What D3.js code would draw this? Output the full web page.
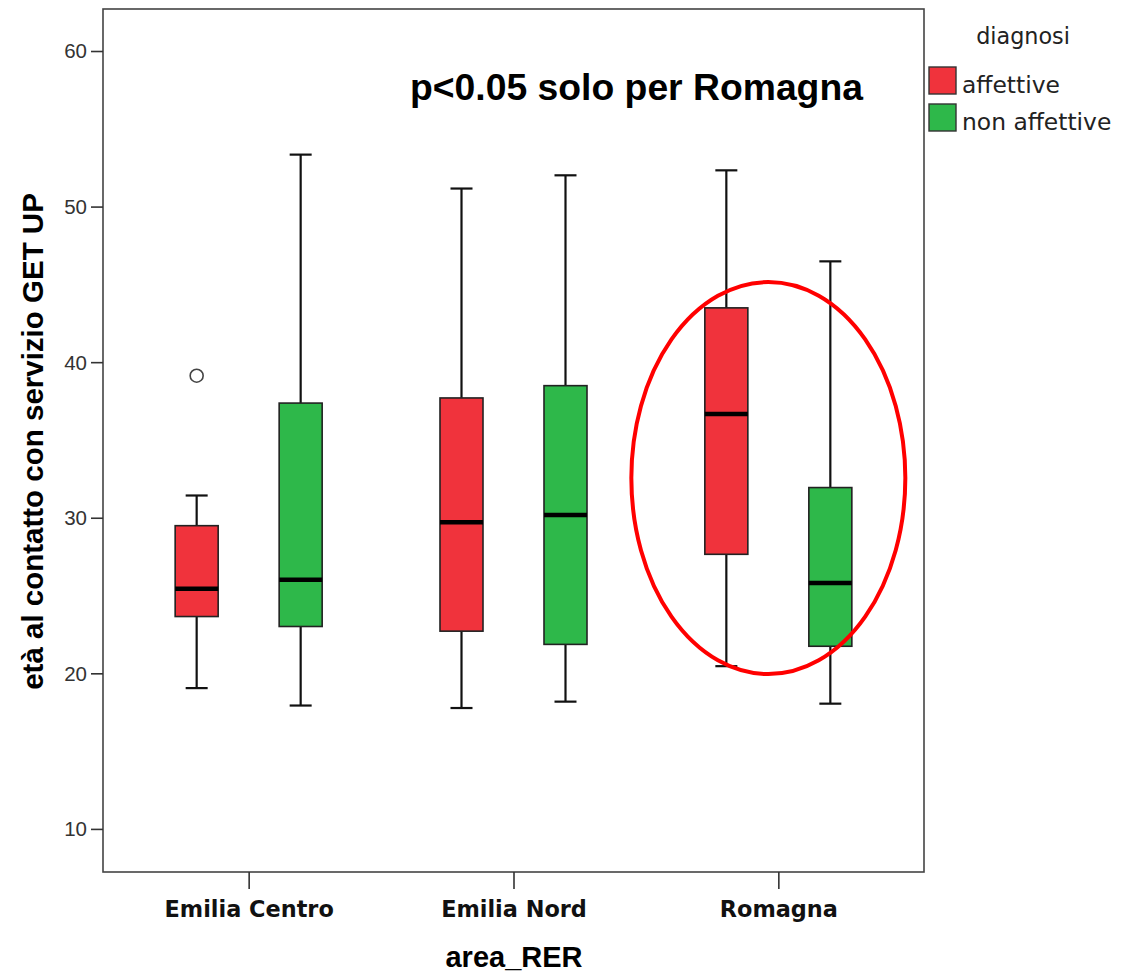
<!DOCTYPE html>
<html><head><meta charset="utf-8">
<script src="https://cdn.jsdelivr.net/npm/d3@7"></script>
<style>body{margin:0;background:#fff}</style>
</head><body><svg id="chart" width="1124" height="973"></svg>
<script>
const categories = ["Emilia Centro", "Emilia Nord", "Romagna"];
const groups = ["affettive", "non affettive"];
const groupColors = ["#f0333c", "#2eb84a"];
const affMin    = [19.05, 17.77, 20.46];
const affQ1     = [23.65, 22.71, 27.65];
const affMedian = [25.43, 29.71, 36.67];
const affQ3     = [29.49, 37.70, 43.49];
const affMax    = [31.43, 51.16, 52.33];
const nonMin    = [17.93, 18.18, 18.05];
const nonQ1     = [23.01, 21.86, 21.74];
const nonMedian = [26.01, 30.17, 25.81];
const nonQ3     = [37.37, 38.49, 31.94];
const nonMax    = [53.34, 52.01, 46.48];
const outlierCategory = ["Emilia Centro"];
const outlierGroup = ["affettive"];
const outlierValue = [39.13];
const yTicks = [10, 20, 30, 40, 50, 60];
const highlightCategory = "Romagna";
const highlightRange = [19.95, 45.15];

const svg = d3.select("#chart");
const L = 103, R = 924, T = 9, B = 872;
const x = d3.scalePoint().domain(categories).range([L, R]).padding(0.55);
const xg = d3.scalePoint().domain(groups).range([-52, 52]);
const y = d3.scaleLinear().domain([7.23, 62.7]).range([B, T]);
const color = d3.scaleOrdinal().domain(groups).range(groupColors);
const boxW = 43, capW = 22;

const stats = [];
categories.forEach((c, i) => {
  stats.push({cat: c, grp: groups[0], min: affMin[i], q1: affQ1[i], med: affMedian[i], q3: affQ3[i], max: affMax[i]});
  stats.push({cat: c, grp: groups[1], min: nonMin[i], q1: nonQ1[i], med: nonMedian[i], q3: nonQ3[i], max: nonMax[i]});
});

// frame
svg.append("rect").attr("x", L).attr("y", T).attr("width", R - L).attr("height", B - T)
  .attr("fill", "#fff").attr("stroke", "#444").attr("stroke-width", 1.6);

// y axis
const ya = svg.append("g").attr("transform", `translate(${L},0)`)
  .call(d3.axisLeft(y).tickValues(yTicks).tickSize(12).tickPadding(4));
ya.select(".domain").remove();
ya.selectAll(".tick line").attr("stroke", "#333").attr("stroke-width", 1.6);
ya.selectAll(".tick text").attr("font-family", "'Liberation Sans', Arial, sans-serif")
  .attr("font-size", 20.5).attr("fill", "#333").attr("dy", "0.34em");

// x axis
const xa = svg.append("g").attr("transform", `translate(0,${B})`)
  .call(d3.axisBottom(x).tickSize(17));
xa.select(".domain").remove();
xa.selectAll(".tick line").attr("stroke", "#333").attr("stroke-width", 1.6);
xa.selectAll(".tick text").attr("font-family", "'DejaVu Sans', Verdana, sans-serif")
  .attr("font-weight", "bold").attr("font-size", 22.4).attr("fill", "#111")
  .attr("y", 45).attr("dy", 0);

// boxes
const g = svg.append("g");
const bx = d => x(d.cat) + xg(d.grp);
const bs = g.selectAll("g.box").data(stats).join("g").attr("class", "box");
bs.append("line").attr("x1", bx).attr("x2", bx).attr("y1", d => y(d.max)).attr("y2", d => y(d.q3))
  .attr("stroke", "#111").attr("stroke-width", 2.2);
bs.append("line").attr("x1", bx).attr("x2", bx).attr("y1", d => y(d.q1)).attr("y2", d => y(d.min))
  .attr("stroke", "#111").attr("stroke-width", 2.2);
bs.append("line").attr("x1", d => bx(d) - capW / 2).attr("x2", d => bx(d) + capW / 2)
  .attr("y1", d => y(d.max)).attr("y2", d => y(d.max)).attr("stroke", "#111").attr("stroke-width", 2.2);
bs.append("line").attr("x1", d => bx(d) - capW / 2).attr("x2", d => bx(d) + capW / 2)
  .attr("y1", d => y(d.min)).attr("y2", d => y(d.min)).attr("stroke", "#111").attr("stroke-width", 2.2);
bs.append("rect").attr("x", d => bx(d) - boxW / 2).attr("width", boxW)
  .attr("y", d => y(d.q3)).attr("height", d => y(d.q1) - y(d.q3))
  .attr("fill", d => color(d.grp)).attr("stroke", "#222").attr("stroke-width", 1.6);
bs.append("line").attr("x1", d => bx(d) - boxW / 2).attr("x2", d => bx(d) + boxW / 2)
  .attr("y1", d => y(d.med)).attr("y2", d => y(d.med)).attr("stroke", "#000").attr("stroke-width", 4.5);

// outliers
g.selectAll("circle.out").data(outlierValue).join("circle").attr("class", "out")
  .attr("cx", (v, i) => x(outlierCategory[i]) + xg(outlierGroup[i]))
  .attr("cy", v => y(v)).attr("r", 6.5)
  .attr("fill", "#fff").attr("stroke", "#444").attr("stroke-width", 1.6);

// highlight ellipse
const ecy = (y(highlightRange[0]) + y(highlightRange[1])) / 2;
const ery = (y(highlightRange[0]) - y(highlightRange[1])) / 2;
svg.append("ellipse").attr("cx", x(highlightCategory) - 10).attr("cy", ecy)
  .attr("rx", 137).attr("ry", ery)
  .attr("fill", "none").attr("stroke", "#ff0000").attr("stroke-width", 4);

// annotation
svg.append("text").attr("x", 636.5).attr("y", 100).attr("text-anchor", "middle")
  .attr("font-family", "'Liberation Sans', Arial, sans-serif").attr("font-weight", "bold")
  .attr("font-size", 37.3).attr("fill", "#000").text("p<0.05 solo per Romagna");

// axis titles
svg.append("text").attr("transform", `translate(43,${(T + B) / 2 + 1}) rotate(-90)`)
  .attr("text-anchor", "middle").attr("font-family", "'Liberation Sans', Arial, sans-serif")
  .attr("font-weight", "bold").attr("font-size", 29.5).attr("fill", "#000")
  .text("età al contatto con servizio GET UP");
svg.append("text").attr("x", 514).attr("y", 967).attr("text-anchor", "middle")
  .attr("font-family", "'Liberation Sans', Arial, sans-serif")
  .attr("font-weight", "bold").attr("font-size", 29).attr("fill", "#000").text("area_RER");

// legend
const lg = svg.append("g");
lg.append("text").attr("x", 1023).attr("y", 44).attr("text-anchor", "middle")
  .attr("font-family", "'DejaVu Sans', Tahoma, sans-serif").attr("font-size", 22.3).attr("fill", "#222")
  .text("diagnosi");
const li = lg.selectAll("g.li").data(groups).join("g").attr("class", "li")
  .attr("transform", (d, i) => `translate(929,${67 + i * 37})`);
li.append("rect").attr("width", 27).attr("height", 27).attr("fill", d => color(d))
  .attr("stroke", "#333").attr("stroke-width", 1.4);
li.append("text").attr("x", 33).attr("y", 26)
  .attr("font-family", "'DejaVu Sans', Tahoma, sans-serif").attr("font-size", 23.4).attr("fill", "#222")
  .text(d => d);
</script></body></html>
